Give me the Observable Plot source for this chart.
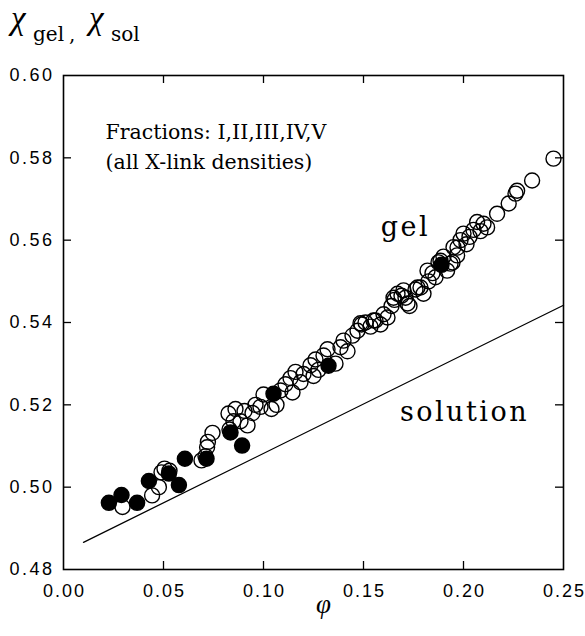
<!DOCTYPE html>
<html>
<head>
<meta charset="utf-8">
<script src="https://cdn.jsdelivr.net/npm/d3@7"></script>
<script src="https://cdn.jsdelivr.net/npm/@observablehq/plot@0.6"></script>
<style>
  html, body { margin: 0; padding: 0; background: #fff; }
  #wrap { position: relative; width: 585px; }
  #ytitle { position: relative; height: 58px; font-family: "DejaVu Serif", "Liberation Serif", serif; color: #000; }
  #ytitle .chi { position: absolute; font-family: "Liberation Serif", serif; font-style: italic; font-size: 33px; top: 0px; }
  #ytitle .sub { position: absolute; font-size: 20px; top: 22px; }
  svg { display: block; }
</style>
</head>
<body>
<div id="wrap">
  <div id="ytitle">
    <span class="chi" style="left:11px">χ</span><span class="sub" style="left:33px">gel</span><span class="sub" style="left:69px">,</span>
    <span class="chi" style="left:89px">χ</span><span class="sub" style="left:111px">sol</span>
  </div>
  <div id="chart"></div>
</div>
<script>
// ---- data ----
const openX = [0.0295,0.0443,0.0477,0.0490,0.0505,0.0530,0.0690,0.0710,0.0718,0.0722,0.0745,0.0825,0.0830,0.0850,0.0860,0.0885,0.0905,0.0920,0.0945,0.0960,0.0985,0.1000,0.1040,0.1065,0.1085,0.1110,0.1135,0.1145,0.1160,0.1185,0.1200,0.1235,0.1250,0.1260,0.1275,0.1300,0.1320,0.1360,0.1385,0.1400,0.1420,0.1445,0.1470,0.1485,0.1490,0.1510,0.1535,0.1550,0.1560,0.1585,0.1600,0.1620,0.1640,0.1650,0.1655,0.1670,0.1690,0.1700,0.1710,0.1720,0.1730,0.1760,0.1770,0.1785,0.1800,0.1820,0.1825,0.1845,0.1860,0.1875,0.1885,0.1900,0.1918,0.1935,0.1945,0.1950,0.1968,0.1970,0.1985,0.2000,0.2015,0.2030,0.2050,0.2068,0.2085,0.2100,0.2118,0.2168,0.2226,0.2260,0.2268,0.2343,0.2450];
const openY = [0.4952,0.4980,0.5000,0.5036,0.5045,0.5040,0.5065,0.5075,0.5097,0.5110,0.5132,0.5179,0.5140,0.5160,0.5190,0.5160,0.5185,0.5150,0.5180,0.5200,0.5195,0.5225,0.5190,0.5200,0.5235,0.5250,0.5265,0.5230,0.5280,0.5255,0.5275,0.5296,0.5270,0.5310,0.5285,0.5320,0.5335,0.5300,0.5340,0.5356,0.5330,0.5368,0.5380,0.5398,0.5395,0.5400,0.5390,0.5405,0.5405,0.5395,0.5420,0.5412,0.5440,0.5460,0.5455,0.5470,0.5465,0.5478,0.5460,0.5446,0.5440,0.5480,0.5485,0.5485,0.5470,0.5526,0.5500,0.5520,0.5510,0.5546,0.5550,0.5560,0.5526,0.5543,0.5546,0.5583,0.5563,0.5582,0.5600,0.5616,0.5590,0.5608,0.5625,0.5644,0.5622,0.5640,0.5631,0.5664,0.5689,0.5713,0.5720,0.5745,0.5798];
const filledX = [0.0227,0.0290,0.0368,0.0427,0.0527,0.0577,0.0607,0.0715,0.0835,0.0893,0.1050,0.1325,0.1890];
const filledY = [0.4962,0.4981,0.4962,0.5015,0.5033,0.5005,0.5069,0.5069,0.5133,0.5101,0.5227,0.5295,0.5540];
const solutionX = [0.01, 0.25];
const solutionY = [0.4866, 0.5442];
const xTicks = [0.00, 0.05, 0.10, 0.15, 0.20, 0.25];
const yTicks = [0.48, 0.50, 0.52, 0.54, 0.56, 0.58, 0.60];
const xInner = [0.05, 0.10, 0.15, 0.20];
const yInner = [0.50, 0.52, 0.54, 0.56, 0.58];
const noteText = ["Fractions: I,II,III,IV,V\n(all X-link densities)"];
const noteX = [0.021];
const noteY = [0.5832];
const curveText = ["gel", "solution"];
const curveX = [0.1710, 0.2005];
const curveY = [0.5630, 0.5182];

const notes = noteText.map((text, i) => ({text, x: noteX[i], y: noteY[i]}));
const curveLabels = curveText.map((text, i) => ({text, x: curveX[i], y: curveY[i]}));
const openPts = openX.map((x, i) => ({x, y: openY[i]}));
const filledPts = filledX.map((x, i) => ({x, y: filledY[i]}));
const solPts = solutionX.map((x, i) => ({x, y: solutionY[i]}));

const W = 585, H = 578, mT = 17, mB = 67, mL = 63, mR = 22;
const fw = W - mL - mR, fh = H - mT - mB, tl = 8;

const chart = Plot.plot({
  width: W, height: H,
  marginTop: mT, marginBottom: mB, marginLeft: mL, marginRight: mR,
  style: {fontFamily: "'Liberation Sans', Arial, sans-serif", fontSize: "18px", color: "#000", background: "#fff"},
  x: {domain: [0, 0.25]},
  y: {domain: [0.48, 0.60]},
  marks: [
    Plot.axisX(xTicks, {tickSize: 0, tickPadding: 15, tickFormat: d => d.toFixed(2), fontSize: 18, label: null}),
    Plot.axisY(yTicks, {tickSize: 0, tickPadding: 9, tickFormat: d => d.toFixed(2), fontSize: 18, label: null}),
    Plot.tickY(yInner, {y: d => d, insetRight: fw - tl, stroke: "#000", strokeWidth: 1.3}),
    Plot.tickY(yInner, {y: d => d, insetLeft: fw - tl, stroke: "#000", strokeWidth: 1.3}),
    Plot.tickX(xInner, {x: d => d, insetTop: fh - tl, stroke: "#000", strokeWidth: 1.3}),
    Plot.tickX(xInner, {x: d => d, insetBottom: fh - tl, stroke: "#000", strokeWidth: 1.3}),
    Plot.frame({stroke: "#000", strokeWidth: 1.6}),
    Plot.line(solPts, {x: "x", y: "y", stroke: "#000", strokeWidth: 1.3}),
    Plot.dot(openPts, {x: "x", y: "y", r: 7.5, stroke: "#000", strokeWidth: 1.4, fill: "none"}),
    Plot.dot(filledPts, {x: "x", y: "y", r: 7.5, fill: "#000", stroke: "#000"}),
    Plot.text(notes, {x: "x", y: "y", text: "text", textAnchor: "start", fontSize: 20.5, lineHeight: 1.46, fontFamily: "'DejaVu Serif', serif", fill: "#000"}),
    Plot.text(curveLabels, {x: "x", y: "y", text: "text", fontSize: 27, fontFamily: "'DejaVu Serif', serif", fill: "#000"}),
    Plot.text(["φ"], {frameAnchor: "bottom", dx: 10, dy: 43, text: d => d, fontSize: 27, fontStyle: "italic", fontFamily: "'Liberation Serif', serif", fill: "#000"})
  ]
});
const svg = d3.select(chart);
svg.selectAll("g[aria-label='x-axis tick label'] text").style("letter-spacing", "2px").attr("dx", "1");
svg.selectAll("g[aria-label='y-axis tick label'] text").style("letter-spacing", "2.5px");
svg.selectAll("text").filter(function() { return curveText.includes(this.textContent); }).style("letter-spacing", "2.5px");
document.getElementById("chart").appendChild(chart);
</script>
</body>
</html>
